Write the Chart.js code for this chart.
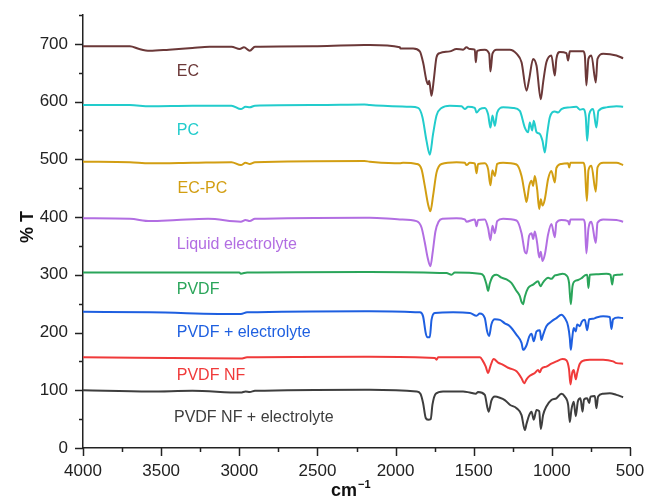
<!DOCTYPE html>
<html>
<head>
<meta charset="utf-8">
<script src="https://cdn.jsdelivr.net/npm/chart.js@4.4.0/dist/chart.umd.min.js"></script>
<style>
  html, body { margin: 0; padding: 0; background: #fff; }
  #wrap { width: 648px; height: 499px; position: relative; }
</style>
</head>
<body>
<div id="wrap"><canvas id="ftirChart"></canvas></div>
<script>
// FTIR spectra (offset stacked)
const ecWn = [4000, 3700, 3640, 3573, 3450, 3300, 3190, 3050, 2997, 2970, 2933, 2900, 2500, 2200, 2165, 1973, 1969, 1888, 1845, 1824, 1802, 1792, 1785, 1770, 1755, 1738, 1717, 1653, 1610, 1568, 1546, 1525, 1493, 1487, 1478, 1429, 1401, 1393, 1380, 1354, 1269, 1226, 1194, 1162, 1145, 1120, 1098, 1071, 1056, 1035, 1003, 981, 971, 949, 907, 896, 885, 800, 789, 779, 766, 747, 719, 708, 672, 587, 544];
const ecT = [696, 696, 691, 688, 690, 693, 695, 695, 691, 694, 688, 695, 696, 698, 698, 694, 692, 692, 687, 668, 636, 630, 636, 610, 639, 677, 684, 687, 691, 690, 694, 691, 690, 668, 688, 690, 683, 652, 683, 690, 690, 683, 668, 619, 639, 674, 662, 604, 633, 668, 680, 645, 674, 686, 684, 671, 687, 687, 680, 628, 674, 680, 633, 674, 683, 680, 675];

const pcWn = [4000, 3700, 3573, 3300, 3050, 2990, 2960, 2933, 2900, 2500, 2200, 2165, 1909, 1856, 1828, 1802, 1781, 1760, 1738, 1706, 1653, 1578, 1557, 1536, 1493, 1482, 1461, 1429, 1408, 1393, 1380, 1365, 1350, 1312, 1248, 1205, 1173, 1152, 1141, 1126, 1116, 1098, 1077, 1060, 1045, 1030, 1013, 981, 960, 939, 885, 843, 821, 800, 783, 774, 761, 736, 715, 702, 651, 587, 544];
const pcT = [594, 594, 592, 593, 593, 587, 591, 590, 593, 594, 595, 594, 591, 589, 573, 532, 508, 544, 576, 589, 593, 592, 587, 591, 589, 581, 587, 589, 578, 555, 576, 558, 581, 590, 589, 584, 555, 547, 564, 550, 567, 547, 544, 532, 512, 544, 573, 583, 581, 587, 590, 591, 586, 587, 573, 532, 578, 587, 555, 584, 590, 592, 591];

const ecpcWn = [4000, 3700, 3573, 3300, 3050, 2990, 2960, 2933, 2900, 2200, 2165, 1973, 1952, 1866, 1834, 1813, 1792, 1777, 1760, 1738, 1706, 1610, 1557, 1546, 1525, 1493, 1482, 1472, 1429, 1408, 1393, 1380, 1365, 1350, 1312, 1226, 1194, 1173, 1162, 1145, 1130, 1120, 1109, 1094, 1081, 1071, 1060, 1045, 1024, 1003, 981, 971, 939, 896, 889, 881, 800, 789, 776, 766, 747, 719, 708, 672, 587, 544];
const ecpcT = [496, 495, 493, 494, 495, 490, 494, 492, 495, 497, 496, 493, 494, 492, 483, 454, 422, 410, 437, 477, 492, 495, 494, 490, 494, 493, 476, 492, 493, 483, 455, 481, 471, 492, 494, 491, 471, 440, 426, 454, 463, 454, 471, 448, 414, 431, 420, 431, 466, 480, 460, 485, 492, 493, 486, 494, 494, 486, 428, 481, 489, 444, 486, 494, 494, 490];

const leWn = [4000, 3700, 3570, 3400, 3200, 2990, 2960, 2933, 2900, 2200, 2165, 1973, 1866, 1834, 1813, 1795, 1777, 1762, 1745, 1725, 1700, 1610, 1557, 1546, 1493, 1482, 1472, 1429, 1408, 1393, 1380, 1365, 1350, 1312, 1226, 1194, 1173, 1162, 1145, 1130, 1120, 1109, 1094, 1081, 1071, 1060, 1045, 1024, 1003, 981, 971, 939, 896, 889, 881, 800, 789, 779, 766, 747, 719, 708, 672, 587, 544];
const leT = [398, 397, 393, 395, 397, 392, 395, 393, 397, 399, 399, 396, 393, 382, 356, 330, 315, 340, 375, 392, 397, 398, 396, 392, 396, 384, 395, 396, 381, 360, 385, 372, 393, 397, 394, 372, 340, 337, 368, 372, 362, 375, 355, 330, 340, 324, 335, 370, 388, 365, 390, 395, 393, 387, 396, 396, 390, 337, 380, 392, 355, 390, 396, 395, 392];

const pvdfWn = [4000, 3000, 2990, 2950, 2200, 2165, 1674, 1642, 1621, 1461, 1436, 1418, 1408, 1397, 1376, 1354, 1322, 1290, 1259, 1226, 1205, 1194, 1184, 1173, 1152, 1120, 1088, 1073, 1056, 1024, 1003, 981, 960, 932, 907, 890, 879, 868, 853, 832, 811, 789, 774, 766, 757, 715, 651, 625, 614, 604, 576, 544];
const pvdfT = [304, 304, 302, 304, 305, 305, 303, 300, 304, 302, 298, 283, 272, 285, 298, 300, 295, 292, 286, 272, 263, 253, 249, 262, 277, 283, 289, 280, 287, 295, 293, 299, 300, 302, 299, 286, 249, 280, 289, 291, 294, 299, 300, 277, 300, 301, 302, 300, 283, 299, 300, 301];

const pvdfElWn = [4000, 3573, 2990, 2950, 2200, 2165, 1845, 1824, 1807, 1798, 1781, 1770, 1749, 1632, 1525, 1482, 1461, 1429, 1414, 1401, 1387, 1365, 1333, 1301, 1269, 1226, 1194, 1184, 1162, 1145, 1130, 1116, 1098, 1077, 1067, 1056, 1035, 1003, 971, 939, 917, 896, 885, 879, 870, 860, 847, 838, 821, 808, 789, 774, 761, 736, 715, 672, 629, 619, 608, 576, 544];
const pvdfElT = [236, 235, 232, 235, 237, 237, 235, 228, 199, 192, 192, 222, 234, 235, 234, 229, 233, 225, 202, 194, 214, 223, 222, 216, 211, 196, 182, 170, 178, 193, 198, 185, 202, 204, 187, 196, 211, 219, 225, 231, 225, 211, 190, 170, 190, 208, 202, 214, 211, 219, 222, 204, 223, 224, 226, 228, 227, 206, 223, 226, 225];

const nfWn = [4000, 2990, 2950, 2200, 2165, 1749, 1738, 1728, 1461, 1440, 1423, 1408, 1393, 1372, 1344, 1312, 1280, 1259, 1226, 1194, 1177, 1162, 1141, 1109, 1088, 1077, 1067, 1035, 1003, 971, 932, 907, 890, 881, 870, 860, 847, 838, 821, 789, 757, 672, 608, 587, 544];
const nfT = [157, 155, 157, 158, 158, 156, 153, 157, 157, 150, 141, 130, 142, 154, 148, 144, 139, 137, 133, 121, 112, 119, 125, 130, 135, 131, 137, 141, 146, 150, 154, 152, 136, 110, 130, 135, 119, 130, 146, 152, 153, 153, 150, 147, 146];

const nfElWn = [4000, 3573, 3300, 2990, 2960, 2933, 2900, 2200, 2165, 1866, 1841, 1824, 1807, 1792, 1775, 1764, 1743, 1696, 1568, 1525, 1487, 1472, 1429, 1414, 1404, 1387, 1365, 1333, 1301, 1269, 1226, 1194, 1173, 1162, 1145, 1130, 1116, 1098, 1081, 1071, 1056, 1035, 1003, 971, 939, 917, 896, 885, 875, 860, 847, 834, 817, 804, 794, 774, 761, 753, 725, 715, 704, 672, 629, 587, 544];
const nfElT = [100, 98, 99, 96, 98, 97, 99, 101, 101, 98, 94, 78, 52, 49, 50, 75, 94, 98, 98, 96, 94, 97, 92, 72, 63, 82, 89, 87, 83, 75, 69, 57, 31, 42, 57, 63, 49, 66, 64, 33, 57, 72, 83, 86, 94, 89, 75, 45, 66, 80, 55, 80, 86, 63, 84, 86, 78, 89, 90, 69, 89, 94, 95, 92, 88];

const seriesNames = ["EC", "PC", "EC-PC", "Liquid electrolyte", "PVDF", "PVDF + electrolyte", "PVDF NF", "PVDF NF + electrolyte"];
const seriesWn = [ecWn, pcWn, ecpcWn, leWn, pvdfWn, pvdfElWn, nfWn, nfElWn];
const seriesT = [ecT, pcT, ecpcT, leT, pvdfT, pvdfElT, nfT, nfElT];
const seriesColors = ["#6b3838", "#22cccc", "#d29e12", "#b26ee2", "#2aa55a", "#1e5fe0", "#f03a3a", "#3e3e3e"];

// where each series name sits (data coords: wavenumber, %T)
const labelWn = [3400, 3400, 3395, 3400, 3400, 3400, 3400, 3418];
const labelT = [644, 542, 441, 345, 266, 193, 118, 45];

const FONT = "'Liberation Sans', Arial, sans-serif";

const datasets = seriesNames.map((name, i) => ({
  label: name,
  data: seriesWn[i].map((w, j) => ({ x: w, y: seriesT[i][j] })),
  borderColor: seriesColors[i],
  borderWidth: 2,
  pointRadius: 0,
  fill: false,
  cubicInterpolationMode: "monotone",
}));

const extras = {
  id: "extras",
  afterDraw(chart) {
    const ctx = chart.ctx;
    const xs = chart.scales.x;
    const ys = chart.scales.y;
    const area = chart.chartArea;
    ctx.save();
    ctx.strokeStyle = "#222";
    ctx.lineWidth = 1.5;
    // y ticks, major every 100, minor every 50
    for (let v = 0; v <= 750; v += 50) {
      const py = Math.round(ys.getPixelForValue(v)) + 0.5;
      const len = v % 100 === 0 ? 8 : 4;
      ctx.beginPath();
      ctx.moveTo(area.left - len, py);
      ctx.lineTo(area.left, py);
      ctx.stroke();
    }
    // x ticks, major every 500, minor every 250
    for (let w = 500; w <= 4000; w += 250) {
      const px = Math.round(xs.getPixelForValue(w)) + 0.5;
      const len = w % 500 === 0 ? 8 : 4;
      ctx.beginPath();
      ctx.moveTo(px, area.bottom);
      ctx.lineTo(px, area.bottom + len);
      ctx.stroke();
    }
    // series names
    ctx.font = "16px " + FONT;
    ctx.textAlign = "left";
    ctx.textBaseline = "alphabetic";
    seriesNames.forEach((name, i) => {
      ctx.fillStyle = seriesColors[i];
      ctx.fillText(name, xs.getPixelForValue(labelWn[i]), ys.getPixelForValue(labelT[i]));
    });
    // axis titles
    ctx.fillStyle = "#111";
    ctx.font = "bold 18px " + FONT;
    ctx.save();
    ctx.translate(33, 227);
    ctx.rotate(-Math.PI / 2);
    ctx.textAlign = "center";
    ctx.fillText("% T", 0, 0);
    ctx.restore();
    ctx.textAlign = "left";
    ctx.fillText("cm", 331, 496);
    const cmW = ctx.measureText("cm").width;
    ctx.font = "bold 11px " + FONT;
    ctx.fillText("\u22121", 331 + cmW + 1, 488);
    ctx.restore();
  },
};

new Chart(document.getElementById("ftirChart"), {
  type: "line",
  data: { datasets },
  options: {
    responsive: true,
    maintainAspectRatio: false,
    animation: false,
    devicePixelRatio: 1,
    layout: { padding: { top: 15, right: 18, left: 0, bottom: 0 } },
    plugins: { legend: { display: false }, tooltip: { enabled: false } },
    scales: {
      x: {
        type: "linear",
        reverse: true,
        min: 500,
        max: 4000,
        grid: { display: false, drawTicks: false },
        border: { display: true, color: "#222", width: 1.5 },
        ticks: {
          stepSize: 500,
          padding: 13,
          maxRotation: 0,
          color: "#222",
          font: { family: FONT, size: 17 },
          callback: (v) => String(v),
        },
        afterFit: (s) => {
          s.height = 51;
          s.paddingLeft = 0;
          s.paddingRight = 0;
        },
      },
      y: {
        min: 0,
        max: 750,
        grid: { display: false, drawTicks: false },
        border: { display: true, color: "#222", width: 1.5 },
        ticks: {
          stepSize: 100,
          padding: 15,
          color: "#222",
          font: { family: FONT, size: 17 },
          callback: (v) => (v <= 700 ? v : ""),
        },
        afterFit: (s) => {
          s.width = 83;
          s.paddingTop = 0;
          s.paddingBottom = 0;
        },
      },
    },
  },
  plugins: [extras],
});
</script>
</body>
</html>
